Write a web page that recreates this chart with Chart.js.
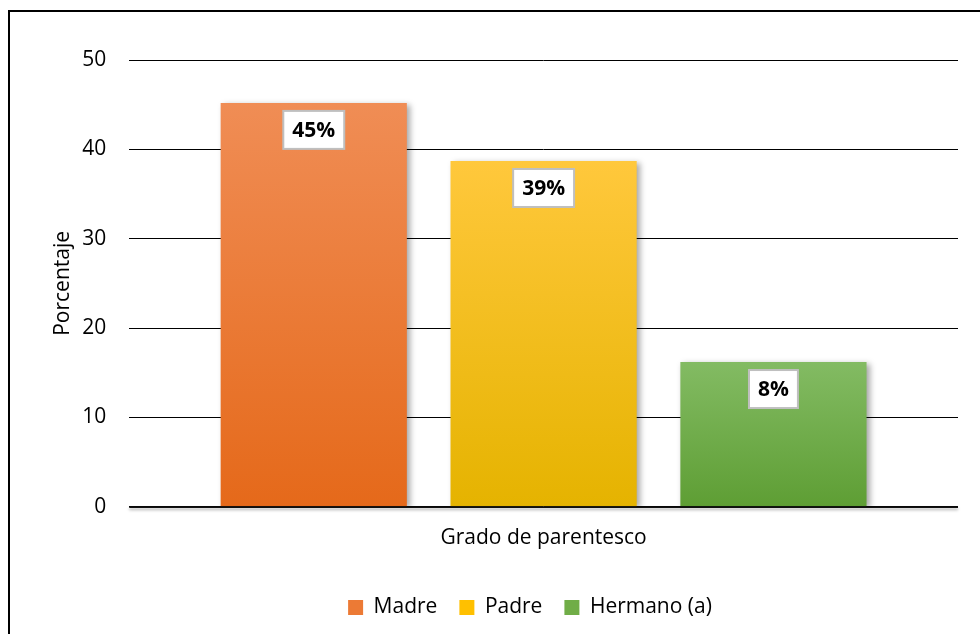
<!DOCTYPE html>
<html>
<head>
<meta charset="utf-8">
<script src="https://cdn.jsdelivr.net/npm/chart.js@4.4.1/dist/chart.umd.min.js"></script>
<style>
html,body{margin:0;padding:0;background:#fff;}
#wrap{width:980px;height:634px;position:relative;}
</style>
</head>
<body>
<div id="wrap"><canvas id="c" width="980" height="634"></canvas></div>
<script>
const categories = ["Grado de parentesco"];
const seriesNames = ["Madre", "Padre", "Hermano (a)"];
const seriesValues = [[45.2], [38.7], [16.2]];
const valueLabels = ["45%", "39%", "8%"];
const yTicks = [0, 10, 20, 30, 40, 50];
const topColors = ["#F08D55", "#FFC83C", "#83BB63"];
const bottomColors = ["#E5691A", "#E5B300", "#5E9E34"];
const legendColors = ["#EC7A35", "#FFC000", "#70AD47"];

const FONT = "'Open Sans', 'Noto Sans', sans-serif";
const FS = 21;

function gradFor(i) {
  return function(ctx) {
    const chart = ctx.chart;
    if (!chart.chartArea) return legendColors[i];
    const y = chart.scales.y;
    const v = ctx.raw;
    const top = y.getPixelForValue(v);
    const bot = y.getPixelForValue(0);
    const g = chart.ctx.createLinearGradient(0, top, 0, bot);
    g.addColorStop(0, topColors[i]);
    g.addColorStop(1, bottomColors[i]);
    return g;
  };
}

const frame = {
  id: 'frame',
  afterDraw(chart) {
    const c = chart.ctx;
    c.save();
    c.strokeStyle = '#000';
    c.lineWidth = 2;
    c.strokeRect(9, 11, 1100, 1100);
    c.restore();
  }
};

const legendShift = {
  id: 'legendShift',
  afterLayout(chart) {
    const lg = chart.legend;
    if (lg) { lg.left += 26; lg.right += 26; }
  }
};

const shadow = {
  id: 'shadow',
  beforeDatasetDraw(chart) {
    const c = chart.ctx;
    c.save();
    c.shadowColor = 'rgba(0,0,0,0.35)';
    c.shadowBlur = 6;
    c.shadowOffsetX = 3;
    c.shadowOffsetY = 2;
  },
  afterDatasetDraw(chart) {
    chart.ctx.restore();
  }
};

const zeroLine = {
  id: 'zeroLine',
  afterDatasetsDraw(chart) {
    const c = chart.ctx;
    const y = chart.scales.y.getPixelForValue(0);
    const a = chart.chartArea;
    c.save();
    c.shadowColor = 'rgba(0,0,0,0.4)';
    c.shadowBlur = 3;
    c.shadowOffsetY = 2;
    c.strokeStyle = '#111';
    c.lineWidth = 1.5;
    c.beginPath();
    c.moveTo(a.left, y + 0.5);
    c.lineTo(a.right, y + 0.5);
    c.stroke();
    c.restore();
  }
};

const labels = {
  id: 'valueLabels',
  afterDatasetsDraw(chart) {
    const c = chart.ctx;
    c.save();
    c.font = "bold " + FS + "px " + FONT;
    c.textAlign = 'center';
    c.textBaseline = 'middle';
    chart.data.datasets.forEach((ds, i) => {
      const meta = chart.getDatasetMeta(i);
      meta.data.forEach((bar) => {
        const txt = valueLabels[i];
        const w = c.measureText(txt).width + 18;
        const h = 38;
        const x = bar.x - w / 2;
        const y = bar.y + 8;
        c.fillStyle = '#fff';
        c.fillRect(x, y, w, h);
        c.strokeStyle = '#BFBFBF';
        c.lineWidth = 2;
        c.strokeRect(x, y, w, h);
        c.fillStyle = '#000';
        c.fillText(txt, bar.x, y + h / 2 + 1);
      });
    });
    c.restore();
  }
};

const datasets = seriesNames.map((n, i) => ({
  label: n,
  data: seriesValues[i],
  backgroundColor: gradFor(i),
  borderWidth: 0,
  barPercentage: 0.81,
  categoryPercentage: 0.832
}));

new Chart(document.getElementById('c'), {
  type: 'bar',
  data: { labels: categories, datasets },
  options: {
    responsive: false,
    animation: false,
    devicePixelRatio: 1,
    layout: { padding: { left: 50, right: 22, top: 60, bottom: 6 } },
    plugins: {
      legend: {
        position: 'bottom',
        labels: {
          font: { family: FONT, size: FS },
          color: '#000',
          boxWidth: 15,
          boxHeight: 15,
          padding: 22,
          generateLabels(chart) {
            return seriesNames.map((n, i) => ({
              text: n,
              fillStyle: legendColors[i],
              strokeStyle: legendColors[i],
              lineWidth: 0,
              datasetIndex: i,
              hidden: false,
              fontColor: '#000'
            }));
          }
        }
      },
      tooltip: { enabled: false }
    },
    scales: {
      x: {
        grid: { display: false, drawTicks: false },
        border: { display: false },
        ticks: { font: { family: FONT, size: FS }, color: '#000', padding: 19 },
        afterFit(scale) { scale.height += 5; }
      },
      y: {
        min: 0,
        max: 50,
        afterBuildTicks(scale) { scale.ticks = yTicks.map(v => ({ value: v })); },
        grid: { color: '#000', lineWidth: 1, drawTicks: false },
        border: { display: false },
        ticks: { font: { family: FONT, size: FS }, color: '#000', padding: 23 },
        afterFit(scale) { scale.width -= 22; },
        title: {
          display: true,
          text: 'Porcentaje',
          font: { family: FONT, size: FS },
          color: '#000',
          padding: { top: 0, bottom: 6 }
        }
      }
    }
  },
  plugins: [shadow, zeroLine, labels, legendShift, frame]
});
</script>
</body>
</html>
